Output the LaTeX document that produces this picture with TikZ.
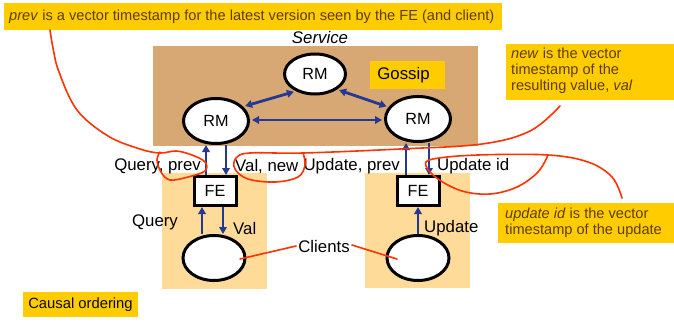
\documentclass[tikz,border=0pt]{standalone}
\usepackage{fontspec}
\setmainfont{Liberation Sans}
\usetikzlibrary{arrows.meta,shapes.geometric,calc}
\definecolor{svcbrown}{RGB}{216,168,116}
\definecolor{lightorange}{RGB}{255,219,153}
\definecolor{noteyellow}{RGB}{255,204,0}
\definecolor{notetext}{RGB}{92,62,0}
\definecolor{flowblue}{RGB}{35,57,147}
\definecolor{annotred}{RGB}{255,51,0}
\tikzset{
  rmnode/.style={ellipse, draw=black, line width=3pt, fill=white, inner sep=0pt,
    minimum width=65pt, minimum height=45pt, font=\fontsize{16.2}{19}\selectfont},
  clientnode/.style={ellipse, draw=black, line width=3pt, fill=white, inner sep=0pt,
    minimum width=62pt, minimum height=45pt},
  fenode/.style={rectangle, draw=black, line width=3pt, fill=white, inner sep=0pt,
    minimum width=42pt, minimum height=29pt, font=\fontsize{16.2}{19}\selectfont},
  lbl/.style={inner sep=0pt, font=\fontsize{16.8}{19}\selectfont, text=black},
  notetxt/.style={inner sep=0pt, text=notetext, font=\fontsize{14.6}{16}\selectfont, align=left},
  flow/.style={draw=flowblue, line width=2.8pt, -{Triangle[length=7pt,width=7.5pt]}},
  gossiparrow/.style={draw=flowblue, line width=2.8pt, {Triangle[length=7pt,width=7.5pt]}-{Triangle[length=7pt,width=7.5pt]}, shorten <=2pt, shorten >=2pt},
  annot/.style={draw=annotred, line width=1.6pt, line cap=round, line join=round}
}
\begin{document}
\begin{tikzpicture}[x=1pt,y=-1pt]
\useasboundingbox (0,0) rectangle (674,321);

% backgrounds
\fill[svcbrown] (153,46) rectangle (478,146);
\fill[lightorange] (162,173) rectangle (267,289);
\fill[lightorange] (365,173) rectangle (470,288);

% note boxes
\fill[noteyellow] (4,3) rectangle (502,30);
\node[notetxt, anchor=west] (prevnote) at (9,17) {\textit{prev} is a vector timestamp for the latest version seen by the FE (and client)};
\fill[noteyellow] (506,44) rectangle (674,100);
\node[notetxt, anchor=north west] (newnote) at (511,48) {\textit{new} is the vector\\timestamp of the\\resulting value, \textit{val}};
\fill[noteyellow] (498,203) rectangle (674,243);
\node[notetxt, anchor=west] (updnote) at (505,223) {\textit{update id} is the vector\\timestamp of the update};
\fill[noteyellow] (23,292) rectangle (138,317);
\node[inner sep=0pt, text=black!85!notetext, font=\fontsize{14.8}{16}\selectfont] (causal) at (80.5,304.5) {Causal ordering};
\fill[noteyellow] (370,61) rectangle (445,89);
\node[lbl] (gossip) at (403.5,75) {Gossip};

\node[lbl, font=\fontsize{16.8}{19}\selectfont\itshape] (service) at (320,37) {Service};

% replica managers
\node[rmnode, minimum width=61pt, minimum height=40pt] (rmT) at (315,74) {RM};
\node[rmnode] (rmL) at (216,121) {RM};
\node[rmnode] (rmR) at (418,119) {RM};

% front ends and clients
\node[fenode] (feL) at (215,191) {FE};
\node[fenode] (feR) at (418,191) {FE};
\node[clientnode] (clL) at (214,258) {};
\node[clientnode] (clR) at (418,258) {};

% gossip arrows
\draw[gossiparrow] (rmL.28) -- (rmT.222);
\draw[gossiparrow] (rmT.-35) -- (rmR.158);
\draw[gossiparrow] ([yshift=1pt]rmL.east) -- ([yshift=1pt]rmL.east -| rmR.west);

% FE <-> RM
\draw[flow] ([xshift=-9pt]feL.north) -- ([xshift=-9pt]feL.north |- rmL.south);
\draw[flow] ([xshift=11pt]feL.north |- rmL.south) -- ([xshift=11pt]feL.north);
\draw[flow] ([xshift=-12pt]feR.north) -- ([xshift=-12pt]feR.north |- rmR.south);
\draw[flow] ([xshift=11pt]feR.north |- rmR.south) -- ([xshift=11pt]feR.north);

% client <-> FE
\draw[flow] ([xshift=-13pt]feL.south |- clL.north) -- ([xshift=-13pt]feL.south);
\draw[flow] ([xshift=8pt]feL.south) -- ([xshift=8pt]feL.south |- clL.north);
\draw[flow] (clR.north) -- (feR.south);

% labels
\node[lbl, anchor=east] (qprev) at (201,166) {Query, prev};
\node[lbl, anchor=west] (vnew) at (235,166) {Val, new};
\node[lbl, anchor=east] (uprev) at (400,166) {Update, prev};
\node[lbl, anchor=west] (uid) at (437,166) {Update id};
\node[lbl] (query) at (155,222) {Query};
\node[lbl, anchor=west] (val) at (233,228) {Val};
\node[lbl, anchor=west] (update) at (424,228) {Update};
\node[lbl] (clients) at (324,246) {Clients};

% annotation lines to clients
\draw[annot] ([xshift=26pt,yshift=-1pt]clL.center) -- ([xshift=-2pt]clients.west);
\draw[annot] ([xshift=2pt,yshift=1pt]clients.east) -- ([xshift=-21pt,yshift=-1pt]clR.center);

% red freehand annotations
\draw[annot] plot[smooth, tension=0.6] coordinates {(50,30) (53,48) (59,72) (77,110) (108,136) (140,149) (160,153) (176,151) (192,155) (205,162) (205,171) (188,177) (170,180) (161,172) (157,160) (160,152)};
\draw[annot] plot[smooth, tension=0.6] coordinates {(560,106) (530,131) (482,144) (400,149) (303,153) (250,153) (236,158) (235,169) (248,179) (275,182) (298,177) (305,165) (303,153)};
\draw[annot] plot[smooth, tension=0.6] coordinates {(622,198) (612,177) (588,162) (548,155) (478,155) (433,159) (426,166) (438,179) (462,191) (490,194) (517,187) (538,172) (548,155)};
\end{tikzpicture}
\end{document}
